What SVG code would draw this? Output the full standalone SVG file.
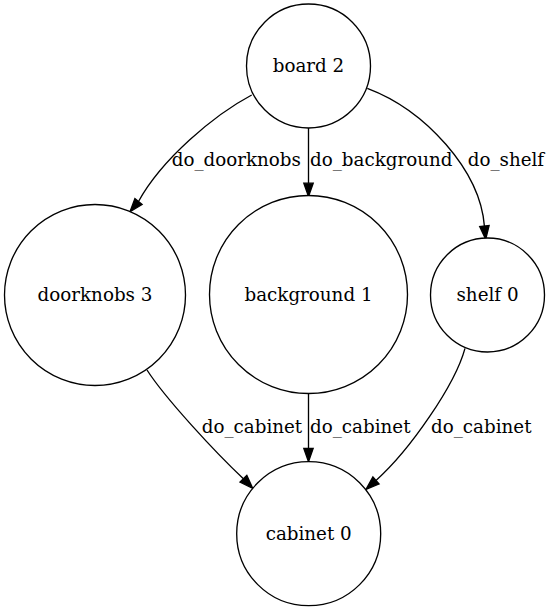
<svg xmlns="http://www.w3.org/2000/svg" width="551" height="611" viewBox="0 0 551 611">
<style>
.n{fill:#fff;stroke:#000;stroke-width:1.33}
.e{fill:none;stroke:#000;stroke-width:1.33}
.a{fill:#000;stroke:#000;stroke-width:1.33}
text{font-family:"DejaVu Serif","Liberation Serif",serif;font-size:18.3px;fill:#000}
.c{text-anchor:middle}
</style>
<rect width="551" height="611" fill="#fff"/>
<g id="connectors">
<path class="e" d="M251.7,95 C214,115 162,159 138.5,201.5"/>
<polygon class="a" points="142.1,204.5 130,211.7 134.9,198.5"/>
<text x="171.7" y="166">do_doorknobs</text>
<path class="e" d="M308.5,128 L308.5,183.2"/>
<polygon class="a" points="313.2,183.2 308.5,196.5 303.8,183.2"/>
<text x="310" y="166">do_background</text>
<path class="e" d="M367.3,88.3 C425,110 480,170 484.4,226.1"/>
<polygon class="a" points="489.1,225.6 485.7,239.3 479.7,226.6"/>
<text x="467.7" y="166">do_shelf</text>
<path class="e" d="M147,370 C165,398 215,452 243.4,478.7"/>
<polygon class="a" points="246.8,475.4 252.7,488.3 240,482"/>
<text x="201.7" y="432.7">do_cabinet</text>
<path class="e" d="M308.5,393.5 L308.5,448.4"/>
<polygon class="a" points="313.2,448.4 308.5,461.7 303.8,448.4"/>
<text x="310" y="432.7">do_cabinet</text>
<path class="e" d="M465,348.3 C455,385 410,450 376,480.5"/>
<polygon class="a" points="379.1,484 366,489.3 372.9,477"/>
<text x="431" y="432.7">do_cabinet</text>
</g>
<g id="board2"><circle class="n" cx="308.5" cy="66" r="62"/><text class="c" x="308.5" y="72">board 2</text></g>
<g id="doorknobs3"><circle class="n" cx="95" cy="295" r="90.5"/><text class="c" x="95" y="301">doorknobs 3</text></g>
<g id="background1"><circle class="n" cx="308.5" cy="294.5" r="99"/><text class="c" x="308.5" y="300.5">background 1</text></g>
<g id="shelf0"><circle class="n" cx="487.5" cy="295" r="57"/><text class="c" x="487.5" y="301">shelf 0</text></g>
<g id="cabinet0"><circle class="n" cx="308.7" cy="533.7" r="72"/><text class="c" x="308.7" y="539.7">cabinet 0</text></g>
</svg>
